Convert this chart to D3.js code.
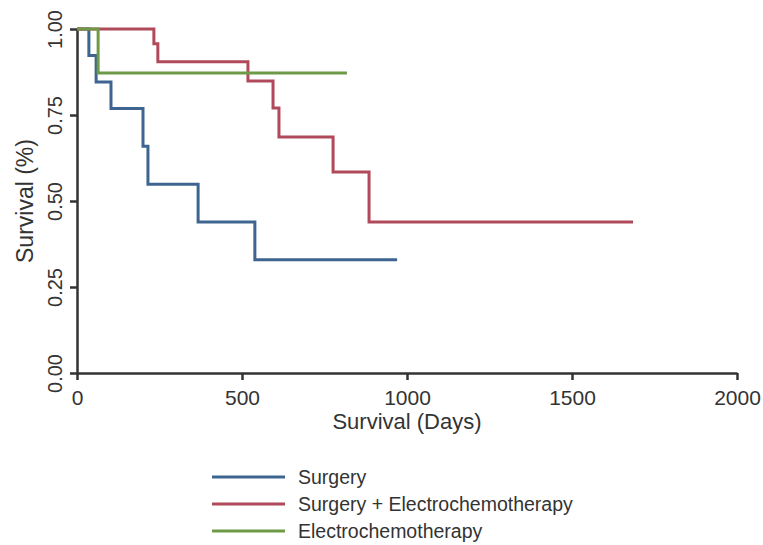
<!DOCTYPE html>
<html>
<head>
<meta charset="utf-8">
<script src="https://cdn.jsdelivr.net/npm/d3@7"></script>
<style>
  body { margin: 0; background: #fff; }
  text { font-family: "Liberation Sans", Arial, sans-serif; fill: #333; }
</style>
</head>
<body>
<div id="chart"></div>
<script>
// Kaplan-Meier steps (days, survival)
var seriesNames = ["Surgery", "Surgery + Electrochemotherapy", "Electrochemotherapy"];
var seriesColors = ["#3d6590", "#b04a5a", "#6e9a47"];

var surgeryDays = [0, 36, 58, 103, 200, 215, 367, 539, 970];
var surgerySurv = [1, 0.923, 0.846, 0.769, 0.659, 0.549, 0.439, 0.329, 0.329];

var comboDays = [0, 233, 245, 518, 594, 612, 776, 885, 1685];
var comboSurv = [1, 0.957, 0.905, 0.849, 0.770, 0.686, 0.584, 0.439, 0.439];

var ectDays = [0, 64, 818];
var ectSurv = [1, 0.872, 0.872];

var xTicks = [0, 500, 1000, 1500, 2000];
var yTicks = [0, 0.25, 0.5, 0.75, 1];

var width = 763, height = 545;

var svg = d3.select("#chart").append("svg")
    .attr("width", width)
    .attr("height", height);

var xScale = d3.scaleLinear().domain([0, 2000]).range([77, 737]);
var yScale = d3.scaleLinear().domain([0, 1]).range([373, 29]);

function zip(days, surv) {
  return days.map(function(d, i) { return {x: d, y: surv[i]}; });
}
var curves = [zip(surgeryDays, surgerySurv), zip(comboDays, comboSurv), zip(ectDays, ectSurv)];

var line = d3.line()
  .curve(d3.curveStepAfter)
  .x(function(d) { return xScale(d.x); })
  .y(function(d) { return yScale(d.y); });

// axes
var xAxis = d3.axisBottom(xScale).tickValues(xTicks).tickSize(7).tickSizeOuter(0)
  .tickPadding(6).tickFormat(d3.format("d"));
var yAxis = d3.axisLeft(yScale).tickValues(yTicks).tickSize(7).tickSizeOuter(0).tickFormat(d3.format(".2f"));

var gx = svg.append("g")
  .attr("class", "x axis")
  .attr("transform", "translate(0," + yScale(0) + ")")
  .call(xAxis);

var gy = svg.append("g")
  .attr("class", "y axis")
  .attr("transform", "translate(" + xScale(0) + ",0)")
  .call(yAxis);

svg.selectAll(".axis path, .axis line")
  .style("stroke", "#333")
  .style("stroke-width", 2.5);

gx.selectAll("text")
  .attr("dy", null)
  .attr("y", 32)
  .style("font-size", "21px")
  .style("fill", "#333");

gy.selectAll("text")
  .attr("x", null).attr("dy", null)
  .attr("text-anchor", "middle")
  .attr("transform", "translate(-15,0) rotate(-90)")
  .style("font-size", "20px")
  .style("fill", "#333");

// curves
for (var i = 0; i < curves.length; i++) {
  svg.append("path")
    .datum(curves[i])
    .attr("d", line)
    .style("fill", "none")
    .style("stroke", seriesColors[i])
    .style("stroke-width", 3);
}

// axis titles
svg.append("text")
  .attr("text-anchor", "middle")
  .attr("x", (xScale(0) + xScale(2000)) / 2)
  .attr("y", 429)
  .style("font-size", "22px")
  .text("Survival (Days)");

svg.append("text")
  .attr("text-anchor", "middle")
  .attr("transform", "translate(33," + (yScale(0) + yScale(1)) / 2 + ") rotate(-90)")
  .style("font-size", "23px")
  .text("Survival (%)");

// legend
var legend = svg.selectAll(".legendItem")
  .data(seriesNames)
 .enter()
  .append("g")
  .attr("class", "legendItem")
  .attr("transform", function(d, i) { return "translate(212," + (477 + i * 27) + ")"; });

legend.append("line")
  .attr("x1", 0).attr("x2", 73)
  .attr("y1", 0).attr("y2", 0)
  .style("stroke", function(d, i) { return seriesColors[i]; })
  .style("stroke-width", 3);

legend.append("text")
  .attr("x", 86)
  .attr("y", 7)
  .style("font-size", "19.5px")
  .text(function(d) { return d; });
</script>
</body>
</html>
